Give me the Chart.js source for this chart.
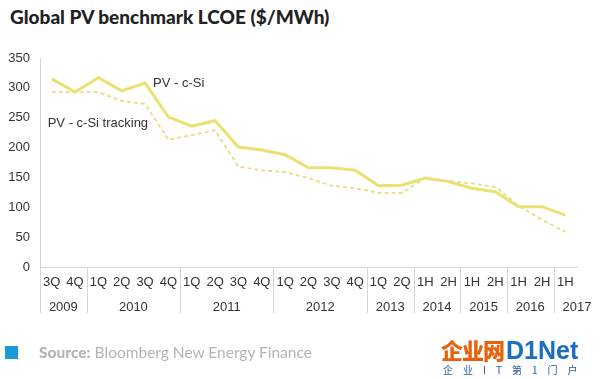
<!DOCTYPE html>
<html>
<head>
<meta charset="utf-8">
<script src="https://cdn.jsdelivr.net/npm/chart.js@4"></script>
<style>
  html, body { margin:0; padding:0; background:#fff; }
  body { width:600px; height:379px; position:relative; overflow:hidden; font-family:"Liberation Sans", Arial, sans-serif; }
  #title { position:absolute; left:10px; top:5px; font-family:Lato, "Open Sans", sans-serif; font-weight:900; font-size:19px; color:#222; white-space:nowrap; }
  #wrap { position:absolute; left:0; top:0; width:600px; height:379px; }
  #sq { position:absolute; left:5px; top:346px; width:13px; height:13px; background:#1b9ad6; }
  #src { position:absolute; left:39px; top:343px; font-family:Lato, "Open Sans", sans-serif; font-size:15.5px; color:#b4b4b4; white-space:nowrap; }
  #src b { font-weight:900; }
  #logo { position:absolute; left:441px; top:337px; white-space:nowrap; }
  #logo .cn { font-family:"Noto Sans CJK SC", sans-serif; font-weight:900; font-size:22px; color:#e8620c; line-height:24px; letter-spacing:-1px; }
  #logo .en { display:inline-block; font-family:"Liberation Sans", Arial, sans-serif; font-weight:bold; font-size:25px; color:#1a6fc0; line-height:24px; margin-left:2px; }
  #logo .sub { position:absolute; left:2px; top:27px; font-family:"Noto Sans CJK SC", sans-serif; font-size:10px; color:#2a5a9a; letter-spacing:10px; line-height:12px; }
</style>
</head>
<body>
<div id="title">Global PV benchmark LCOE ($/MWh)</div>
<div id="wrap"><canvas id="c" width="600" height="379"></canvas></div>
<div id="sq"></div>
<div id="src"><b>Source:</b> Bloomberg New Energy Finance</div>
<div id="logo"><span class="cn">企业网</span><span class="en">D1Net</span><div class="sub">企业IT第1门户</div></div>
<script>
const categories = ["3Q","4Q","1Q","2Q","3Q","4Q","1Q","2Q","3Q","4Q","1Q","2Q","3Q","4Q","1Q","2Q","1H","2H","1H","2H","1H","2H","1H"];
const years = ["2009","2010","2011","2012","2013","2014","2015","2016","2017"];
const yearCounts = [2,4,4,4,2,2,2,2,1];
const yearSlots = [2,4,4,4,2,2,2,2,2];
const pvCSi = [315,293,317,295,308,251,236,245,201,196,188,166,166,162,136,137,149,143,132,126,101,101,87];
const pvTracking = [293,293,293,278,273,213,221,229,168,162,159,149,136,132,124,124,149,144,140,134,103,79,59];
const yTicks = [0,50,100,150,200,250,300,350];

const decor = {
  id: 'decor',
  afterDraw(chart) {
    const ctx = chart.ctx;
    const x = chart.scales.x, y = chart.scales.y;
    const area = chart.chartArea;
    const w = x.getPixelForValue(1) - x.getPixelForValue(0);
    const bottom = area.bottom + 46;
    ctx.save();
    ctx.strokeStyle = '#d6d6d6';
    ctx.lineWidth = 1;
    ctx.beginPath();
    ctx.moveTo(area.left + 0.5, area.bottom);
    ctx.lineTo(area.left + 0.5, bottom);
    ctx.stroke();
    let idx = 0;
    ctx.fillStyle = '#333';
    ctx.font = '13px "Liberation Sans", Arial, sans-serif';
    ctx.textAlign = 'center';
    ctx.textBaseline = 'middle';
    for (let g = 0; g < years.length; g++) {
      const start = x.getPixelForValue(idx) - w / 2;
      const center = start + yearSlots[g] * w / 2;
      ctx.fillText(years[g], center, area.bottom + 40);
      if (g > 0) {
        ctx.beginPath();
        ctx.moveTo(Math.round(start) + 0.5, area.bottom);
        ctx.lineTo(Math.round(start) + 0.5, bottom);
        ctx.stroke();
      }
      idx += yearCounts[g];
    }
    ctx.font = '13px "Liberation Sans", Arial, sans-serif';
    ctx.textAlign = 'left';
    const p1 = chart.getDatasetMeta(0).data[4];
    ctx.fillText('PV - c-Si', p1.x + 8, p1.y);
    const p2 = chart.getDatasetMeta(1).data[0];
    ctx.fillText('PV - c-Si tracking', p2.x - 4, y.getPixelForValue(241));
    ctx.restore();
  }
};

new Chart(document.getElementById('c'), {
  type: 'line',
  data: {
    labels: categories,
    datasets: [
      { label: 'PV - c-Si', data: pvCSi, borderColor: '#ebe172', borderWidth: 3, pointRadius: 0, tension: 0, fill: false },
      { label: 'PV - c-Si tracking', data: pvTracking, borderColor: '#e6dd84', borderWidth: 1.8, borderDash: [4,3], pointRadius: 0, tension: 0, fill: false }
    ]
  },
  options: {
    responsive: false,
    animation: false,
    events: [],
    layout: { padding: { left: 0, top: 58, right: 23, bottom: 66 } },
    plugins: { legend: { display: false }, tooltip: { enabled: false }, title: { display: false } },
    scales: {
      x: {
        type: 'category',
        offset: true,
        grid: { display: false, drawTicks: false },
        border: { display: true, color: '#d6d6d6', width: 1 },
        ticks: { color: '#333', font: { size: 13, family: '"Liberation Sans", Arial, sans-serif' }, padding: 8, maxRotation: 0, autoSkip: false },
        afterFit(s) { s.height = 46; }
      },
      y: {
        min: 0, max: 350,
        afterBuildTicks(s) { s.ticks = yTicks.map(v => ({ value: v })); },
        grid: { display: false, drawTicks: false },
        border: { display: true, color: '#d6d6d6', width: 1 },
        ticks: { color: '#333', font: { size: 13, family: '"Liberation Sans", Arial, sans-serif' }, padding: 10 },
        afterFit(s) { s.width = 40; }
      }
    }
  },
  plugins: [decor]
});
</script>
</body>
</html>
